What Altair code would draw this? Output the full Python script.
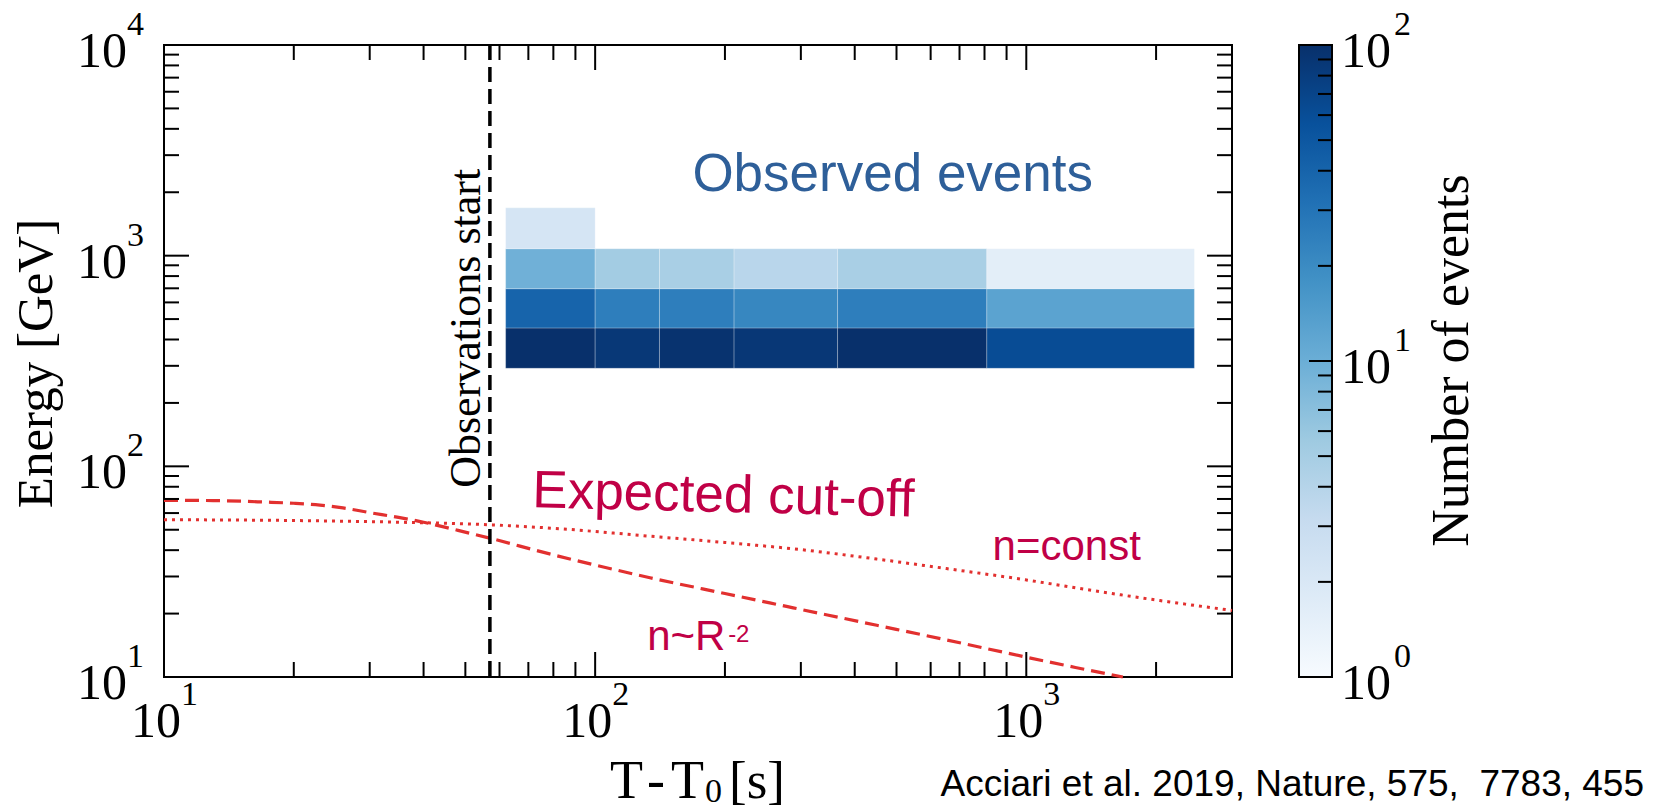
import altair as alt
import pandas as pd

# ---------------------------------------------------------------- data
# time bins [s] and energy bins [GeV] of the observed-event histogram
t_edges = [62, 100, 141, 210, 365, 810, 2454]
e_edges = [292, 454, 697, 1079, 1687]
# events per cell, one row per energy bin (lowest first); None = empty
counts = [
    [100, 87, 95, 88, 100, 61],
    [40, 25, 25, 21.5, 25, 12.6],
    [9.5, 5.2, 4.8, 3.8, 4.8, 1.6],
    [2.2, None, None, None, None, None],
]

# expected cut-off energy, wind-like medium (n ~ R^-2)
wind_t = [10, 13, 17, 20, 23, 26, 30, 35, 40, 47, 57, 78, 100, 134, 200, 288, 450, 653, 1004, 1300, 1675]
wind_e = [69, 68.8, 67.7, 66.8, 65.5, 63.5, 60.3, 57.2, 54.3, 50.2, 45.6, 38.5, 34, 29.6, 24.9,
          21.3, 17.6, 15.0, 12.4, 11.1, 10]
# expected cut-off energy, constant density medium
ism_t = [10, 20, 35, 57, 80, 134, 200, 288, 450, 653, 1000, 1483, 2000, 3000]
ism_e = [55.8, 55.3, 54.3, 52.8, 50.8, 46.6, 43.5, 40.6, 36.3, 32.7, 28.9, 25.4, 23.2, 20.7]

obs_start = 57  # s

# axis ticks
x_major = [10, 100, 1000]
x_minor = [20, 30, 40, 50, 60, 70, 80, 90, 200, 300, 400, 500, 600, 700, 800, 900, 2000]
y_major = [10, 100, 1000, 10000]
y_minor = [20, 30, 40, 50, 60, 70, 80, 90, 200, 300, 400, 500, 600, 700, 800, 900,
           2000, 3000, 4000, 5000, 6000, 7000, 8000, 9000]
cb_major = [10]
cb_minor = [2, 3, 4, 5, 6, 7, 8, 9, 20, 30, 40, 50, 60, 70, 80, 90]

x_labels = [10, 100, 1000]
x_exps = ["1", "2", "3"]
y_labels = [10, 100, 1000, 10000]
y_exps = ["1", "2", "3", "4"]
cb_labels = [1, 10, 100]
cb_exps = ["0", "1", "2"]

# ---------------------------------------------------------------- style
W, H = 1068, 632
SERIF = "Liberation Serif"
SANS = "Liberation Sans"
RED = "#e2302f"
CRIMSON = "#c00046"
STEEL = "#2e5f99"
BLUES = ["#f7fbff", "#deebf7", "#c6dbef", "#9ecae1", "#6baed6",
         "#4292c6", "#2171b5", "#08519c", "#08306b"]
BLUE_STOPS = [10 ** (i / 4) for i in range(9)]  # 1 ... 100, log spaced
CB_X0, CB_X1 = 1135, 1168  # colour bar placement (px)
MAJ, MIN = 25, 15

xs = alt.Scale(type="log", domain=[10, 3000], nice=False)
ys = alt.Scale(type="log", domain=[10, 10000], nice=False)
cs = alt.Scale(type="log", domain=[1, 100], nice=False)


def X(f):
    return alt.X(f, scale=xs, axis=None)


def Y(f):
    return alt.Y(f, scale=ys, axis=None)


def CY(f):
    return alt.Y(f, scale=cs, axis=None)


# ---------------------------------------------------------------- heatmap
cells = []
for i in range(len(e_edges) - 1):
    for j in range(len(t_edges) - 1):
        n = counts[i][j]
        if n is not None:
            cells.append({"t0": t_edges[j], "t1": t_edges[j + 1],
                          "e0": e_edges[i], "e1": e_edges[i + 1], "n": n})
cells = pd.DataFrame(cells)

heat = alt.Chart(cells).mark_rect(stroke="white", strokeWidth=1, strokeOpacity=0.25).encode(
    x=X("t0:Q"), x2="t1:Q", y=Y("e0:Q"), y2="e1:Q",
    color=alt.Color("n:Q", legend=None,
                    scale=alt.Scale(type="log", domain=BLUE_STOPS, range=BLUES,
                                    interpolate="rgb", clamp=True)),
)

wind = alt.Chart(pd.DataFrame({"t": wind_t, "e": wind_e})).mark_line(
    color=RED, strokeWidth=3.2, strokeDash=[14, 7], interpolate="monotone").encode(
    x=X("t:Q"), y=Y("e:Q"))
ism = alt.Chart(pd.DataFrame({"t": ism_t, "e": ism_e})).mark_line(
    color=RED, strokeWidth=3, strokeDash=[3, 5], interpolate="monotone").encode(
    x=X("t:Q"), y=Y("e:Q"))

start = alt.Chart(pd.DataFrame({"t": [obs_start]})).mark_rule(
    color="black", strokeWidth=3.5, strokeDash=[15, 7]).encode(x=X("t:Q"))

# ---------------------------------------------------------------- frame ticks
def xticks(vals, length):
    d = pd.DataFrame({"v": vals})
    bottom = alt.Chart(d).mark_rule(color="black", strokeWidth=2).encode(
        x=X("v:Q"), y=alt.value(H), y2=alt.value(H - length))
    top = alt.Chart(d).mark_rule(color="black", strokeWidth=2).encode(
        x=X("v:Q"), y=alt.value(0), y2=alt.value(length))
    return [bottom, top]


def yticks(vals, length):
    d = pd.DataFrame({"v": vals})
    left = alt.Chart(d).mark_rule(color="black", strokeWidth=2).encode(
        y=Y("v:Q"), x=alt.value(0), x2=alt.value(length))
    right = alt.Chart(d).mark_rule(color="black", strokeWidth=2).encode(
        y=Y("v:Q"), x=alt.value(W), x2=alt.value(W - length))
    return [left, right]


ticks = xticks(x_major, MAJ) + xticks(x_minor, MIN) + yticks(y_major, MAJ) + yticks(y_minor, MIN)

# ---------------------------------------------------------------- tick labels
xl = pd.DataFrame({"v": x_labels, "base": ["10"] * len(x_labels), "exp": x_exps})
x_base = alt.Chart(xl).mark_text(font=SERIF, fontSize=50, align="center", baseline="alphabetic",
                                 dx=-8).encode(x=X("v:Q"), y=alt.value(H + 60), text="base:N")
x_exp = alt.Chart(xl).mark_text(font=SERIF, fontSize=34, align="left", baseline="alphabetic",
                                dx=17).encode(x=X("v:Q"), y=alt.value(H + 28), text="exp:N")

yl = pd.DataFrame({"v": y_labels, "base": ["10"] * len(y_labels), "exp": y_exps})
y_base = alt.Chart(yl).mark_text(font=SERIF, fontSize=50, align="right", baseline="alphabetic",
                                 dy=22).encode(y=Y("v:Q"), x=alt.value(-37), text="base:N")
y_exp = alt.Chart(yl).mark_text(font=SERIF, fontSize=34, align="left", baseline="alphabetic",
                                dy=-10).encode(y=Y("v:Q"), x=alt.value(-37), text="exp:N")

# ---------------------------------------------------------------- annotations
def note(t, e, s, **kw):
    return alt.Chart(pd.DataFrame({"t": [t], "e": [e], "s": [s]})).mark_text(**kw).encode(
        x=X("t:Q"), y=Y("e:Q"), text="s:N")


notes = [
    note(490, 2018, "Observed events", font=SANS, fontSize=53, color=STEEL,
         align="center", baseline="alphabetic"),
    note(71.4, 63.9, "Expected cut-off", font=SANS, fontSize=53, color=CRIMSON,
         align="left", baseline="alphabetic", angle=1.4),
    note(835, 35.8, "n=const", font=SANS, fontSize=42, color=CRIMSON,
         align="left", baseline="alphabetic"),
    note(132, 13.5, "n~R", font=SANS, fontSize=42, color=CRIMSON,
         align="left", baseline="alphabetic"),
    note(132, 13.5, "-2", font=SANS, fontSize=24, color=CRIMSON,
         align="left", baseline="alphabetic", dx=81, dy=-8),
    note(54, 452, "Observations start", font=SERIF, fontSize=44, color="black",
         align="center", baseline="alphabetic", angle=270),
]


def label(s, x, y, **kw):
    return alt.Chart(pd.DataFrame({"s": [s]})).mark_text(**kw).encode(
        x=alt.value(x), y=alt.value(y), text="s:N")


# x-axis title "T-T0 [s]" is set piece by piece (letters, dash, subscript)
titles = [
    label("Energy [GeV]", -112, 318.5, font=SERIF, fontSize=51, angle=270,
          align="center", baseline="alphabetic"),
    label("T", 446, H + 121, font=SERIF, fontSize=54, align="left", baseline="alphabetic"),
    label("-", 483, H + 121, font=SERIF, fontSize=54, align="left", baseline="alphabetic"),
    label("T", 507, H + 121, font=SERIF, fontSize=54, align="left", baseline="alphabetic"),
    label("0", 541, H + 125, font=SERIF, fontSize=34, align="left", baseline="alphabetic"),
    label("[s]", 565, H + 121, font=SERIF, fontSize=53, align="left", baseline="alphabetic"),
    label("Number of events", 1304, 315.5, font=SERIF, fontSize=52, angle=270,
          align="center", baseline="alphabetic"),
    label("Acciari et al. 2019, Nature, 575,\u00a0 7783, 455", 1480, H + 119, font=SANS,
          fontSize=37, align="right", baseline="alphabetic"),
]

main = alt.layer(heat, wind, ism, start, *ticks, x_base, x_exp, y_base, y_exp, *notes, *titles)

# ---------------------------------------------------------------- colour bar
gradient = alt.LinearGradient(
    gradient="linear", x1=0, x2=0, y1=1, y2=0,
    stops=[alt.GradientStop(color=c, offset=i / (len(BLUES) - 1)) for i, c in enumerate(BLUES)],
)
bar = alt.Chart(pd.DataFrame({"lo": [1], "hi": [100]})).mark_rect(
    fill=gradient, stroke="black", strokeWidth=2).encode(
    y=CY("lo:Q"), y2="hi:Q", x=alt.value(CB_X0), x2=alt.value(CB_X1))


def cbticks(vals, length):
    return alt.Chart(pd.DataFrame({"v": vals})).mark_rule(color="black", strokeWidth=2).encode(
        y=CY("v:Q"), x=alt.value(CB_X1), x2=alt.value(CB_X1 - length))


cl = pd.DataFrame({"v": cb_labels, "base": ["10"] * len(cb_labels), "exp": cb_exps})
cb_base = alt.Chart(cl).mark_text(font=SERIF, fontSize=50, align="left", baseline="alphabetic",
                                  dy=22).encode(y=CY("v:Q"), x=alt.value(1177), text="base:N")
cb_exp = alt.Chart(cl).mark_text(font=SERIF, fontSize=34, align="left", baseline="alphabetic",
                                 dy=-10).encode(y=CY("v:Q"), x=alt.value(1230), text="exp:N")

cbar = alt.layer(bar, cbticks(cb_major, 23), cbticks(cb_minor, 14), cb_base, cb_exp)

chart = alt.layer(main, cbar).resolve_scale(y="independent").properties(
    width=W, height=H,
    autosize=alt.AutoSizeParams(type="none"),
    padding={"left": 164, "top": 45, "right": 431, "bottom": 132},
    background="white",
).configure_view(stroke="black", strokeWidth=2)

chart.save("out.html", embed_options={"renderer": "svg", "actions": False})
